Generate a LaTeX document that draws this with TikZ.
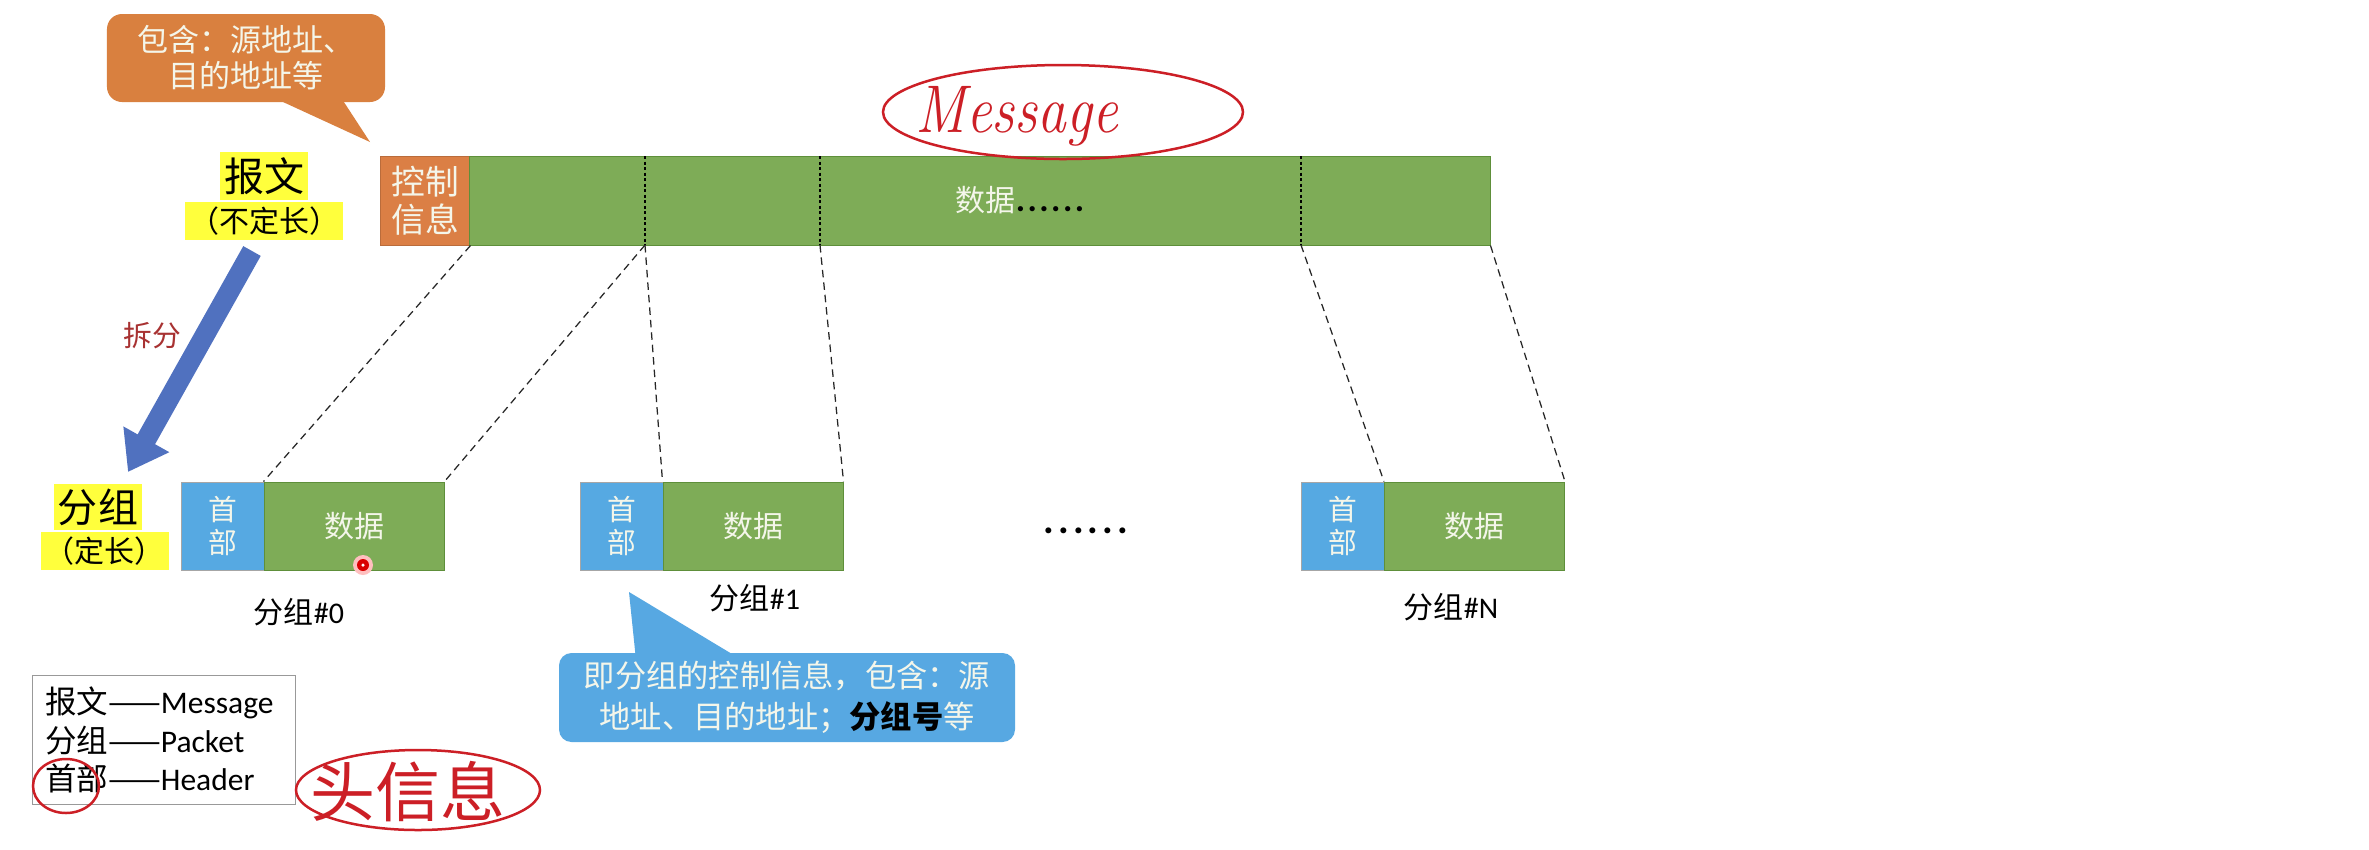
\documentclass[tikz,border=0pt]{standalone}
\usepackage{fontspec}
\setmainfont{Carlito}
\newfontfamily\cjk{Noto Sans CJK SC}
\newfontfamily\lmr{Latin Modern Roman}
\usetikzlibrary{arrows.meta}
\definecolor{ctrlor}{HTML}{DB7F45}
\definecolor{calor}{HTML}{D9803F}
\definecolor{datagr}{HTML}{7EAC57}
\definecolor{grborder}{HTML}{5E8F3A}
\definecolor{hdrblue}{HTML}{56A9E2}
\definecolor{calblue}{HTML}{57A8E2}
\definecolor{arrblue}{HTML}{5071BF}
\definecolor{pale}{HTML}{F4F6EA}
\definecolor{hl}{HTML}{FFFF3C}
\definecolor{pencol}{HTML}{CC1F26}
\definecolor{splitred}{HTML}{A83232}
\newcommand\fsz[2]{\fontsize{#1}{#2}\selectfont}
\begin{document}
\begin{tikzpicture}[x=0.4pt,y=-0.4pt,
  ctrlbox/.style={fill=ctrlor, draw=ctrlor!85!black, line width=0.4pt, inner sep=0, minimum width=36pt, minimum height=35.6pt, align=center, text=pale, font=\cjk\fsz{13.5}{15}},
  databar/.style={fill=datagr, draw=grborder, line width=0.4pt, inner sep=0, minimum width=408pt, minimum height=35.6pt},
  hdrbox/.style={fill=hdrblue, draw=gray!70, line width=0.4pt, inner sep=0, minimum width=33.2pt, minimum height=35.2pt, align=center, text=pale, font=\cjk\fsz{11.5}{13.4}},
  pdata/.style={fill=datagr, draw=grborder, line width=0.4pt, inner sep=0, minimum width=72pt, minimum height=35.2pt, text=pale, font=\cjk\fsz{12}{14}},
  conn/.style={draw=black!85, line width=0.5pt, dash pattern=on 3pt off 2pt},
  divider/.style={draw=black, line width=0.8pt, dash pattern=on 1.2pt off 1pt},
  hilite/.style={fill=hl, inner xsep=1.5pt, inner ysep=2pt, text=black},
  pktlabel/.style={font=\fsz{12}{14}, text=black},
  penline/.style={draw=pencol, line width=1pt}
]
\useasboundingbox (0,0) rectangle (2369,849);
\fill[white] (0,0) rectangle (2369,849);

% message bar
\node[ctrlbox] (ctrl) at (425,200.5) {控制\\信息};
\node[databar] (bar) at (980,200.5) {};
\coordinate (t1) at (645,156); \coordinate (d1) at (645,245);
\coordinate (t2) at (820,156); \coordinate (d2) at (820,245);
\coordinate (t3) at (1301,156); \coordinate (d3) at (1301,245);
\draw[divider] (t1) -- (d1);
\draw[divider] (t2) -- (d2);
\draw[divider] (t3) -- (d3);
\node[font=\cjk\fsz{12}{14}, text=pale] (bartext) at (1020,200) {数据{\normalfont\bfseries\addfontfeature{LetterSpace=7}\fsz{14}{16}\color{black}......}};

% packets
\node[hdrbox] (p0h) at (222.5,526) {首\\部};
\node[pdata] (p0d) at (354,526) {数据};
\node[hdrbox] (p1h) at (621.5,526) {首\\部};
\node[pdata] (p1d) at (753,526) {数据};
\node[hdrbox] (pNh) at (1342.5,526) {首\\部};
\node[pdata] (pNd) at (1474.5,526) {数据};
\node[pktlabel] (l0) at (299,612) {{\cjk 分组}\#0};
\node[pktlabel] (l1) at (755,598) {{\cjk 分组}\#1};
\node[pktlabel] (lN) at (1451,607) {{\cjk 分组}\#N};
\node (pdots) at (1086,531) {\bfseries\addfontfeature{LetterSpace=10}\fsz{16}{18}......};

% connectors
\draw[conn] (ctrl.south east) -- (p0d.north west);
\draw[conn] (d1) -- (p0d.north east);
\draw[conn] (d1) -- (p1d.north west);
\draw[conn] (d2) -- (p1d.north east);
\draw[conn] (d3) -- (pNd.north west);
\draw[conn] (bar.south east) -- (pNd.north east);

% orange callout
\fill[calor] (270,96) -- (370,142) -- (340,96) -- cycle;
\node[fill=calor, rounded corners=6pt, minimum width=111.2pt, minimum height=35.2pt, inner sep=0, align=center, text=pale, font=\cjk\fsz{12.4}{14.4}] (oc) at (246,58) {包含：源地址、\\目的地址等};

% blue callout
\fill[calblue] (636,660) -- (629,592) -- (742,660) -- cycle;
\node[fill=calblue, rounded corners=5pt, minimum width=182.4pt, minimum height=35.6pt, inner sep=0, align=center, text=pale, font=\cjk\fsz{12.5}{16.4}] (bc) at (787,697.5) {即分组的控制信息，包含：源\\地址、目的地址；{\bfseries\color{black}分组号}等};

% labels left
\node[hilite, font=\cjk\fsz{16}{18}] (msg) at (264,176) {报文};
\node[hilite, font=\cjk\fsz{12}{14}] (msgsub) at (264,221) {（不定长）};
\node[hilite, font=\cjk\fsz{16}{18}] (pkt) at (98,507) {分组};
\node[hilite, font=\cjk\fsz{12}{14}] (pktsub) at (105,551) {（定长）};

% split arrow
\coordinate (atail) at (252,251);
\coordinate (atip) at (128,472);
\draw[arrblue, line width=8pt, -{Triangle[length=15pt,width=20pt]}] (atail) -- (atip);
\node[text=splitred, font=\cjk\fsz{11.5}{13}] (split) at (152,336) {拆分};

% legend
\node[draw=gray!80, line width=0.5pt, anchor=north west, minimum height=51.6pt, inner xsep=5pt, inner ysep=0pt, text width=95.2pt, align=left, font=\fsz{12.6}{15.5}] (legend) at (32,675) {{\cjk 报文——}Message\\{\cjk 分组——}Packet\\{\cjk 首部——}Header};

% handwriting
\draw[penline] (1063,112) ellipse [x radius=72pt, y radius=18.8pt];
\node[text=pencol, font=\lmr\itshape\fsz{27}{30}, xscale=0.85] (hw1) at (1017,116) {Message};
\draw[penline] (66,786) ellipse [x radius=13.2pt, y radius=10.8pt];
\draw[penline] (418,790) ellipse [x radius=48.8pt, y radius=16pt];
\node[text=pencol, font=\cjk\fsz{26}{28}] (hw2) at (408,792) {头信息};

% pointer dot
\fill[red!25] (363,565) circle [radius=4pt];
\fill[red!85!black] (363,565) circle [radius=2.4pt];
\fill[white] (363,565) circle [radius=0.7pt];
\end{tikzpicture}
\end{document}
